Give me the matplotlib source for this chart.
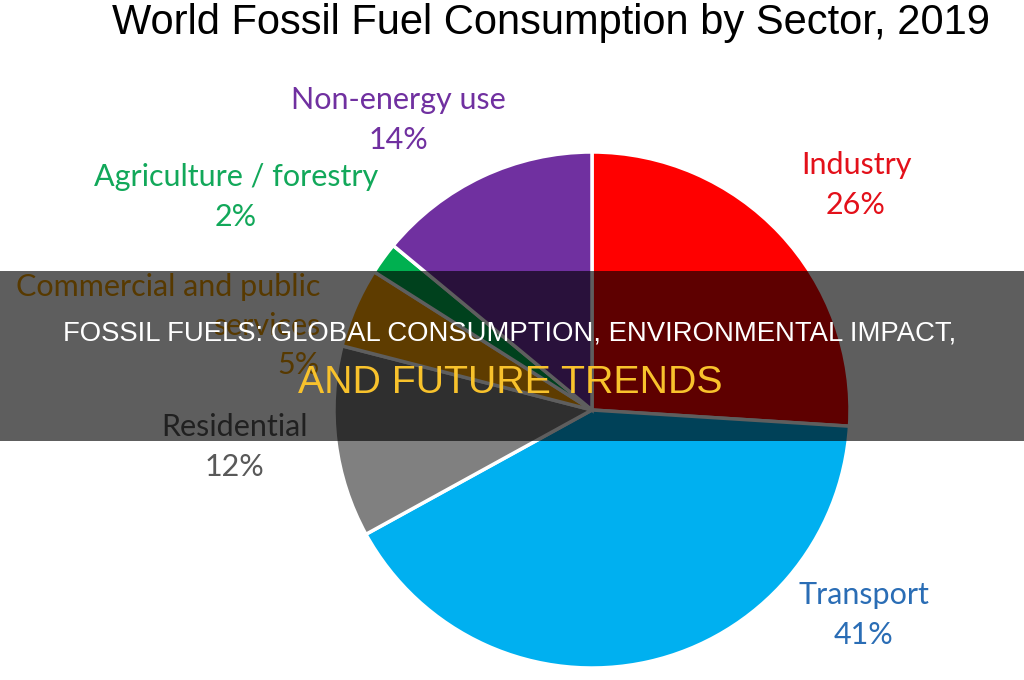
import matplotlib.pyplot as plt
from matplotlib.patches import Rectangle

W, H = 1024, 680

# data
sectors = ['Industry', 'Transport', 'Residential', 'Commercial and public\nservices',
           'Agriculture / forestry', 'Non-energy use']
shares = [26, 41, 12, 5, 2, 14]
wedge_colors = ['#FF0000', '#00B0F0', '#808080', '#FFA300', '#00B050', '#7030A0']
label_colors = ['#E3101A', '#2A6DB5', '#595959', '#EC9A00', '#12A85A', '#7030A0']

title = 'World Fossil Fuel Consumption by Sector, 2019'
banner_line1 = 'FOSSIL FUELS: GLOBAL CONSUMPTION, ENVIRONMENTAL IMPACT,'
banner_line2 = 'AND FUTURE TRENDS'

# label layout: x, y of first line (pixels from top), alignment
label_pos = [(856, 165, 'center'), (864, 595, 'center'), (234, 427, 'center'),
             (320, 287, 'right'), (236, 177, 'center'), (398, 100, 'center')]


def py(y):
    return H - y


fig = plt.figure(figsize=(W / 100, H / 100), dpi=100)
ax = fig.add_axes([0, 0, 1, 1])

ax.pie(shares, colors=wedge_colors, startangle=90, counterclock=False,
       center=(592, py(410)), radius=258,
       wedgeprops=dict(edgecolor='white', linewidth=2.5))
ax.set_xlim(0, W)
ax.set_ylim(0, H)
ax.axis('off')

ax.text(551, py(23), title, ha='center', va='center', fontsize=30,
        family='Liberation Sans', color='black')

lato = ['Lato', 'DejaVu Sans']
for name, share, col, (x, y, al) in zip(sectors, shares, label_colors, label_pos):
    lines = name.split('\n') + [f'{share}%']
    step = 40 if len(lines) == 2 else 39
    for i, ln in enumerate(lines):
        ax.text(x, py(y + i * step), ln, ha=al, va='center', fontsize=22,
                family=lato, color=col)

# dark banner across the middle
ax.add_patch(Rectangle((0, py(441)), W, 170, facecolor='black', alpha=0.63,
                       edgecolor='none', zorder=10))
ax.text(510, py(334), banner_line1, ha='center', va='center', fontsize=19.8,
        family='Liberation Sans', color='white', zorder=11)
ax.text(510, py(383), banner_line2, ha='center', va='center', fontsize=28.3,
        family='Liberation Sans', color='#F8C22C', zorder=11)

fig.savefig('out.png', dpi=100)
